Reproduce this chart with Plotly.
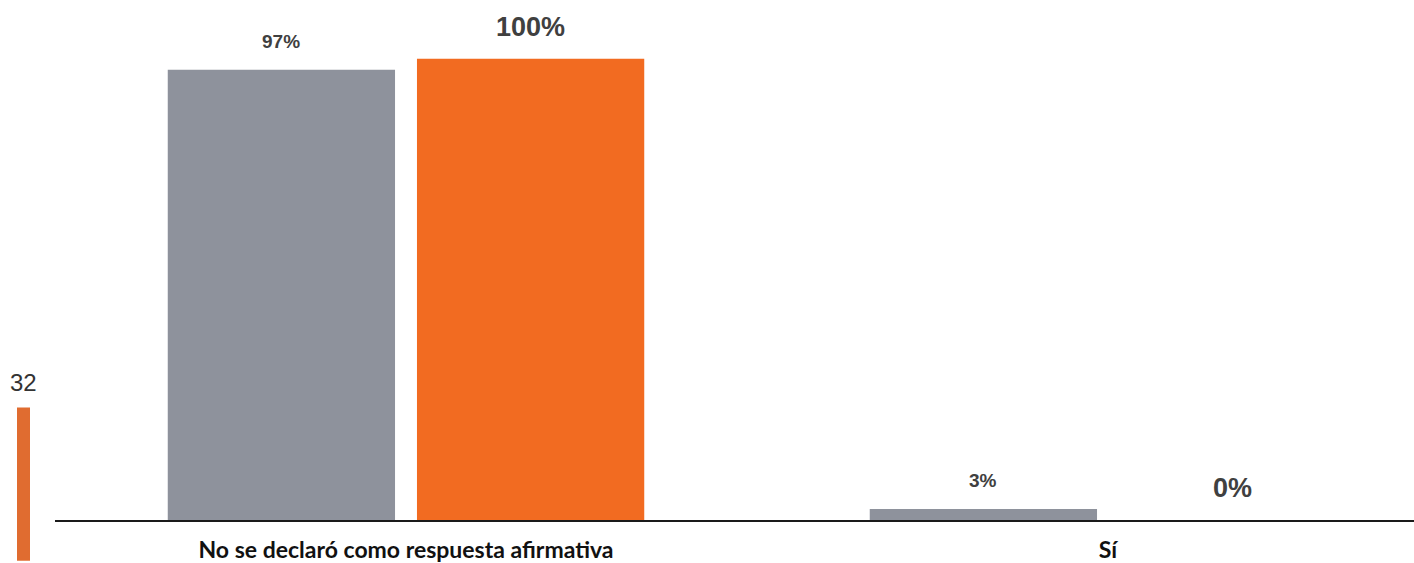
import plotly.graph_objects as go

categories = ["No se declaró como respuesta afirmativa", "Sí"]
serie_gris = [97.6, 2.4]
serie_naranja = [100.0, 0.0]
etiquetas_gris = ["97%", "3%"]
etiquetas_naranja = ["100%", "0%"]
numero_pagina = "32"

GRAY = "#8E929C"
ORANGE = "#F26B21"
TXT = "#404040"

bargap = 0.29
bargroupgap = 0.088
slot = (1 - bargap) / 2
off = slot / 2

fig = go.Figure()
fig.add_trace(go.Bar(x=list(range(len(categories))), y=serie_gris, marker_color=GRAY,
                     marker_line_width=0, name="g", hoverinfo="skip"))
fig.add_trace(go.Bar(x=list(range(len(categories))), y=serie_naranja, marker_color=ORANGE,
                     marker_line_width=0, name="o", hoverinfo="skip"))

annotations = []
for i, (v, t) in enumerate(zip(serie_gris, etiquetas_gris)):
    annotations.append(dict(x=i - off, y=v, xref="x", yref="y", text=t, showarrow=False,
                            yanchor="middle", yshift=28,
                            font=dict(family="Liberation Sans, Arial", size=19, color=TXT, weight="bold")))
for i, (v, t) in enumerate(zip(serie_naranja, etiquetas_naranja)):
    annotations.append(dict(x=i + off, y=v, xref="x", yref="y", text=t, showarrow=False,
                            yanchor="middle", yshift=32,
                            font=dict(family="Liberation Sans, Arial", size=27, color=TXT, weight="bold")))

W, H = 1414, 563
ml, mb = 55, 41
pw, ph = W - ml, H - mb

def px_x(p):
    return (p - ml) / pw

def px_y(p):
    return (ph - p) / ph

annotations.append(dict(x=px_x(23), y=px_y(384), xref="paper", yref="paper", text=numero_pagina,
                        showarrow=False, xanchor="center", yanchor="middle",
                        font=dict(family="Liberation Sans, Arial", size=24, color="#333333")))

fig.update_layout(
    width=W, height=H,
    margin=dict(l=ml, r=0, t=0, b=mb),
    plot_bgcolor="white", paper_bgcolor="white",
    barmode="group", bargap=bargap, bargroupgap=bargroupgap,
    showlegend=False,
    annotations=annotations,
    shapes=[dict(type="rect", xref="paper", yref="paper",
                 x0=px_x(17), x1=px_x(30), y0=px_y(563), y1=px_y(409),
                 fillcolor="#E06C30", line_width=0, layer="above")],
    xaxis=dict(tickmode="array", tickvals=list(range(len(categories))), ticktext=categories,
               range=[-0.5, -0.5 + pw / 702], showline=True, linecolor="#1a1a1a", linewidth=2,
               showgrid=False, zeroline=False, ticks="", ticklabelstandoff=8,
               tickfont=dict(family="Lato", size=23, color="#111111", weight="bold")),
    yaxis=dict(range=[0, ph / 4.63], visible=False, showgrid=False, zeroline=False),
)

fig.write_html("out.html", config={"displayModeBar": False},
               post_script="document.body.style.margin='0px';document.body.style.overflow='hidden';")
